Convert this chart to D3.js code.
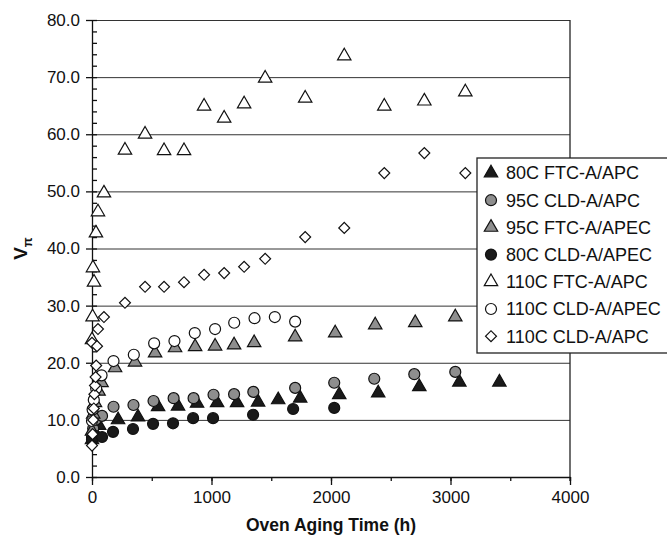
<!DOCTYPE html>
<html lang="en">
<head>
<meta charset="utf-8">
<title>V pi vs oven aging time</title>
<script src="https://cdnjs.cloudflare.com/ajax/libs/d3/7.8.5/d3.min.js"></script>
<style>
  body { margin: 0; background: #fff; }
  text { font-family: Arial, "Liberation Sans", sans-serif; fill: #111; }
  .grid line { stroke: #333; stroke-width: 1px; }
  .axis path, .axis line { stroke: #111; stroke-width: 1.3px; }
</style>
</head>
<body>
<script>
// series names, in legend order
var seriesNames = ["80C FTC-A/APC", "95C CLD-A/APC", "95C FTC-A/APEC", "80C CLD-A/APEC",
                   "110C FTC-A/APC", "110C CLD-A/APEC", "110C CLD-A/APC"];

// [time (h), V pi]
var ftc80apc = [[0, 6.5], [20, 7.5], [60, 9], [218, 10.0], [385, 10.5], [553, 12.3], [720, 12.4],
  [879, 12.9], [1047, 13.0], [1214, 13.0], [1390, 13.1], [1558, 13.5], [1742, 13.8], [2069, 14.4],
  [2395, 14.7], [2739, 15.8], [3074, 16.6], [3409, 16.6]];
var cld95apc = [[0, 7], [10, 8.5], [30, 10], [84, 10.7], [180, 12.3], [347, 12.6], [515, 13.3],
  [683, 13.8], [850, 13.8], [1017, 14.4], [1189, 14.5], [1350, 14.9], [1700, 15.6], [2027, 16.5],
  [2362, 17.2], [2697, 18.0], [3040, 18.4]];
var ftc95apec = [[0, 8], [10, 11], [25, 13], [55, 15], [80, 16.5], [193, 19.1], [360, 20.1],
  [528, 21.7], [695, 22.6], [863, 22.8], [1030, 22.9], [1189, 23.1], [1357, 23.5], [1700, 24.5],
  [2035, 25.2], [2370, 26.6], [2705, 27.0], [3040, 28.0]];
var cld80apec = [[0, 6.5], [30, 7.2], [84, 7.0], [176, 7.9], [343, 8.4], [511, 9.3], [678, 9.4],
  [846, 10.3], [1013, 10.3], [1348, 10.9], [1683, 11.9], [2027, 12.1]];
var ftc110apc = [[0, 24], [5, 28], [17, 34.1], [8, 36.6], [33, 42.7], [50, 46.4], [100, 49.7],
  [276, 57.2], [444, 60.0], [603, 57.1], [770, 57.1], [938, 64.9], [1106, 62.8], [1273, 65.3],
  [1449, 69.8], [1784, 66.3], [2111, 73.7], [2446, 64.9], [2781, 65.8], [3124, 67.4]];
var cld110apec = [[0, 9.8], [5, 11.8], [15, 13.5], [35, 15.5], [80, 17.8], [180, 20.3], [350, 21.4],
  [520, 23.4], [690, 23.8], [860, 25.2], [1030, 25.9], [1190, 27.0], [1360, 27.8], [1530, 28.0],
  [1700, 27.2]];
var cld110apc = [[0, 5.5], [5, 7.5], [10, 10], [15, 12], [20, 14.5], [25, 16], [30, 17.5],
  [35, 19.5], [0, 23.5], [42, 22.9], [50, 25.9], [100, 28.0], [276, 30.5], [444, 33.3], [603, 33.3],
  [770, 34.1], [938, 35.4], [1106, 35.7], [1273, 36.8], [1449, 38.2], [1784, 42.0], [2111, 43.6],
  [2446, 53.2], [2781, 56.7], [3124, 53.2]];

var xTicks = [0, 1000, 2000, 3000, 4000];
var yTicks = [0, 10, 20, 30, 40, 50, 60, 70, 80];

var seriesData = [ftc80apc, cld95apc, ftc95apec, cld80apec, ftc110apc, cld110apec, cld110apc];
var shapes = ["triangle", "circle", "triangle", "circle", "triangle", "circle", "diamond"];
var fills = ["#1a1a1a", "#8e8e8e", "#8e8e8e", "#1a1a1a", "#fff", "#fff", "#fff"];

var W = 667, H = 543;
var margin = {top: 20, right: 97, bottom: 66, left: 92};
var width = W - margin.left - margin.right,
    height = H - margin.top - margin.bottom;

var x = d3.scaleLinear().domain([0, 4000]).range([0, width]);
var y = d3.scaleLinear().domain([0, 80]).range([height, 0]);

var svg = d3.select("body").append("svg")
    .attr("width", W)
    .attr("height", H)
  .append("g")
    .attr("transform", "translate(" + margin.left + "," + margin.top + ")");

// horizontal grid lines
svg.append("g")
    .attr("class", "grid")
    .call(d3.axisLeft(y).tickValues(yTicks.slice(1)).tickSize(-width).tickFormat(""))
    .call(function(g) { g.select(".domain").remove(); });

// right border
svg.append("line")
    .attr("x1", width).attr("x2", width)
    .attr("y1", 0).attr("y2", height + 4)
    .attr("stroke", "#222").attr("stroke-width", 1.3);

// y axis: minor ticks inside, major outside
svg.append("g")
    .attr("class", "axis")
    .call(d3.axisRight(y).ticks(40).tickSize(5).tickFormat(""))
    .call(function(g) { g.select(".domain").remove(); });
svg.append("g")
    .attr("class", "axis")
    .call(d3.axisLeft(y).tickValues(yTicks).tickSize(6).tickSizeOuter(0).tickPadding(6)
      .tickFormat(d3.format(".1f")))
    .call(function(g) { g.selectAll("text").style("font-size", "17px"); });

// x axis
svg.append("g")
    .attr("class", "axis")
    .attr("transform", "translate(0," + height + ")")
    .call(d3.axisBottom(x).ticks(8).tickSize(4).tickFormat(""))
    .call(function(g) { g.select(".domain").remove(); });
svg.append("g")
    .attr("class", "axis")
    .attr("transform", "translate(0," + height + ")")
    .call(d3.axisBottom(x).tickValues(xTicks).tickSize(8).tickSizeOuter(0).tickPadding(6)
      .tickFormat(d3.format("d")))
    .call(function(g) { g.selectAll("text").style("font-size", "17px"); });

// marker shapes
function markerPath(s) {
  if (s === "triangle") return d3.symbol(d3.symbolTriangle, 78)();
  if (s === "circle") return d3.symbol(d3.symbolCircle, 95)();
  return d3.symbol(d3.symbolSquare2, 76)();
}

seriesData.forEach(function(data, i) {
  svg.append("g").selectAll("path")
    .data(data)
    .enter().append("path")
      .attr("d", markerPath(shapes[i]))
      .attr("transform", function(d) {
        return "translate(" + x(d[0]) + "," + y(d[1]) + ")" + (shapes[i] === "diamond" ? " rotate(45)" : "");
      })
      .attr("fill", fills[i])
      .attr("stroke", "#111")
      .attr("stroke-width", 1.2);
});

// axis titles
svg.append("text")
    .attr("x", width / 2)
    .attr("y", height + 54)
    .attr("text-anchor", "middle")
    .style("font-size", "17.5px")
    .style("font-weight", "bold")
    .text("Oven Aging Time (h)");

var yl = svg.append("text")
    .attr("transform", "translate(" + (-65) + "," + (height / 2) + ") rotate(-90)")
    .attr("text-anchor", "middle")
    .style("font-size", "19px")
    .style("font-weight", "bold");
yl.append("tspan").text("V");
yl.append("tspan").attr("dy", 5).style("font-size", "13px").text("π");

// legend
var lg = svg.append("g").attr("transform", "translate(" + (477 - margin.left) + "," + (158 - margin.top) + ")");
lg.append("rect")
    .attr("width", 195).attr("height", 195)
    .attr("fill", "#fff").attr("stroke", "#222").attr("stroke-width", 1.3);
seriesNames.forEach(function(name, i) {
  var ry = 15 + i * 27.2;
  lg.append("path")
    .attr("d", markerPath(shapes[i]))
    .attr("transform", "translate(14," + ry + ")" + (shapes[i] === "diamond" ? " rotate(45)" : ""))
    .attr("fill", fills[i])
    .attr("stroke", "#111")
    .attr("stroke-width", 1.2);
  lg.append("text")
    .attr("x", 29)
    .attr("y", ry)
    .attr("dy", "0.36em")
    .style("font-size", "18px")
    .text(name);
});
</script>
</body>
</html>
